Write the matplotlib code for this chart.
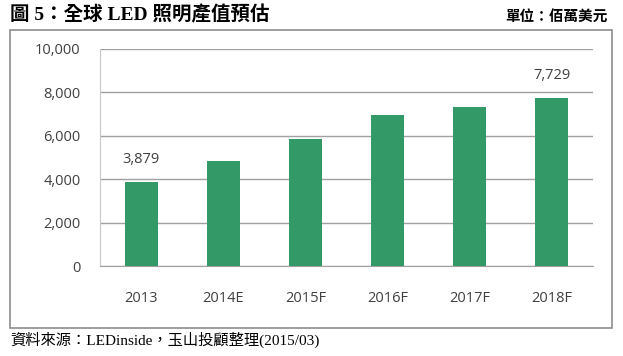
import matplotlib
matplotlib.use("Agg")
import matplotlib.pyplot as plt
from matplotlib.patches import Rectangle
from matplotlib.ticker import FuncFormatter

# ─────────────────────────────────────────
# DATA
# ─────────────────────────────────────────
years = ["2013", "2014E", "2015F", "2016F", "2017F", "2018F"]
values = [3879, 4850, 5870, 6940, 7350, 7729]
labelled = [0, 5]  # bars carrying a value label
yticks = [0, 2000, 4000, 6000, 8000, 10000]

TITLE = "圖 5：全球 LED 照明產值預估"
UNIT = "單位：佰萬美元"
SOURCE = "資料來源：LEDinside，玉山投顧整理(2015/03)"

BAR_COLOR = "#339966"
TEXT_COLOR = "#404040"
SERIF_CJK = ["Liberation Serif", "Noto Sans CJK TC"]
SANS = ["Open Sans", "DejaVu Sans"]

W, H = 623, 356
fig = plt.figure(figsize=(W / 100, H / 100), dpi=100)
fig.patch.set_facecolor("white")

# outer frame
fig.patches.append(Rectangle((10 / W, 1 - 328 / H), 602 / W, 298 / H,
                             transform=fig.transFigure, fill=False,
                             edgecolor="#8c8c8c", linewidth=1.2))

ax = fig.add_axes([100 / W, 1 - 266 / H, 493 / W, 217 / H])
x = range(len(years))
ax.bar(x, values, width=0.4, color=BAR_COLOR, zorder=3)

for i in labelled:
    ax.text(i, values[i] + 700, f"{values[i]:,}", ha="center", va="bottom",
            fontsize=10.5, color=TEXT_COLOR, family=SANS)

ax.set_xlim(-0.5, len(years) - 0.5)
ax.set_ylim(0, 10000)
ax.set_yticks(yticks)
ax.yaxis.set_major_formatter(FuncFormatter(lambda v, p: f"{int(v):,}"))
ax.set_xticks(list(x))
ax.set_xticklabels(years)
ax.tick_params(axis="y", length=0, pad=14, labelsize=10.5, labelcolor=TEXT_COLOR)
ax.tick_params(axis="x", length=0, pad=18, labelsize=10.5, labelcolor=TEXT_COLOR)
for lbl in ax.get_xticklabels() + ax.get_yticklabels():
    lbl.set_family(SANS)

ax.grid(axis="y", color="#a0a0a0", linewidth=1.0, zorder=0)
for side in ["top", "right"]:
    ax.spines[side].set_visible(False)
ax.spines["left"].set_color("#c8c8c8")
ax.spines["bottom"].set_color("#a0a0a0")

fig.text(10 / W, 1 - 15 / H, TITLE, ha="left", va="center", fontsize=14,
         fontweight="bold", family=SERIF_CJK, color="black")
fig.text(608 / W, 1 - 17 / H, UNIT, ha="right", va="center", fontsize=10.5,
         fontweight="bold", family=SERIF_CJK, color="black")
fig.text(10 / W, 1 - 340 / H, SOURCE, ha="left", va="center", fontsize=11,
         family=SERIF_CJK, color="black")

fig.savefig("out.png", dpi=100, facecolor=fig.get_facecolor())
